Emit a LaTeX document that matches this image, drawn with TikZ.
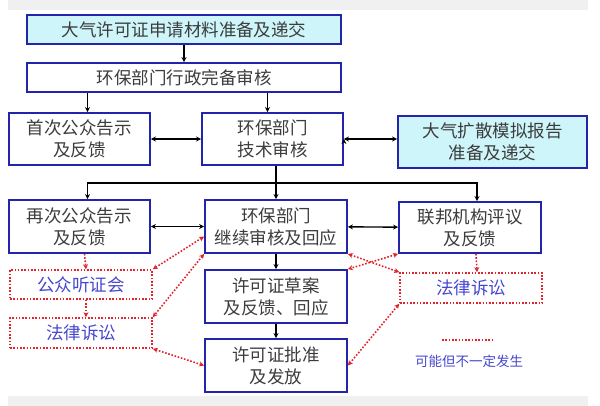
\documentclass[tikz,border=0pt]{standalone}
\usepackage{fontspec}
\setmainfont{Noto Sans CJK SC}
\usetikzlibrary{arrows.meta}
\definecolor{boxblue}{RGB}{36,36,170}
\definecolor{boxcyan}{RGB}{206,245,250}
\definecolor{textgrey}{RGB}{60,60,60}
\definecolor{maybered}{RGB}{228,34,44}
\definecolor{maybeblue}{RGB}{70,70,205}
\tikzset{
  procbox/.style={rectangle,draw=boxblue,line width=1.8pt,fill=white,text=textgrey,align=center,inner sep=1pt},
  inputbox/.style={procbox,fill=boxcyan},
  maybebox/.style={rectangle,draw=maybered,line width=1.6pt,dash pattern=on 1.6pt off 1.7pt,text=maybeblue,align=center,inner sep=1pt},
  flow/.style={line width=1.4pt,draw=black},
  maybeflow/.style={line width=1.6pt,draw=maybered,dash pattern=on 1.6pt off 1.7pt}
}

\begin{document}
\begin{tikzpicture}[x=1pt,y=-1pt,>={Stealth[length=5pt,width=5pt]},font=\fontsize{17.5}{22}\selectfont]
        \useasboundingbox (0,0) rectangle (600,406);
        \fill[black!6] (8,0) rectangle (588,10);
        \fill[black!6] (8,396) rectangle (588,406);
        % The main line of the review runs down the middle column.
        \node[inputbox,minimum width=314,minimum height=29] (apply) at (184,29.5) {大气许可证申请材料准备及递交};
        \node[procbox,minimum width=314,minimum height=29] (admin) at (184,77.5) {环保部门行政完备审核};
        \node[procbox,minimum width=141,minimum height=52] (pub1) at (79.5,139) {首次公众告示\\及反馈};
        \node[procbox,minimum width=141,minimum height=52] (tech) at (272.5,139) {环保部门\\技术审核};
        \node[inputbox,minimum width=189,minimum height=52] (model) at (492.5,142) {大气扩散模拟报告\\准备及递交};
        \node[procbox,minimum width=141,minimum height=53] (pub2) at (79.5,226.5) {再次公众告示\\及反馈};
        \node[procbox,minimum width=142,minimum height=53] (cont) at (276,226.5) {环保部门\\继续审核及回应};
        \node[procbox,minimum width=142,minimum height=51] (fed) at (470,227.5) {联邦机构评议\\及反馈};
        \node[procbox,minimum width=142,minimum height=53] (draft) at (276,296.5) {许可证草案\\及反馈、回应};
        \node[procbox,minimum width=142,minimum height=53] (issue) at (276,365.5) {许可证批准\\及发放};
        % Steps that may or may not happen.
        \node[maybebox,minimum width=142,minimum height=29] (hear) at (81,284.5) {公众听证会};
        \node[maybebox,minimum width=142,minimum height=30] (lawL) at (81,333) {法律诉讼};
        \node[maybebox,minimum width=142,minimum height=30] (lawR) at (471,288) {法律诉讼};
        \coordinate (split) at (276,183);
        \path[flow,->]
          (apply) edge (admin)
          ([xshift=8pt]pub1.north |- admin.south) edge ([xshift=8pt]pub1.north)
          ([xshift=-5pt]tech.north |- admin.south) edge ([xshift=-5pt]tech.north)
          (cont.north |- tech.south) edge (cont.north)
          (cont) edge (draft)
          (draft) edge (issue)
          (pub1) edge[<->] (tech)
          (tech.east) edge[<->] (tech.east -| model.west)
          (pub2) edge[<->] (cont)
          (cont) edge[<->] (fed);
        \draw[flow,->] (split) -| ([xshift=8pt]pub2.north);
        \draw[flow,->] (split) -| ([xshift=7pt]fed.north);
        \path[maybeflow]
          ([xshift=5pt]pub2.south) edge[->] ([xshift=5pt]hear.north)
          ([xshift=5pt]hear.south) edge[->] ([xshift=5pt]lawL.north)
          ([yshift=-10pt]cont.west) edge[<->] (hear.north east)
          (cont.south west) edge[<->] (lawL.north east)
          (lawL.south east) edge[<->] (issue.west)
          (cont.south east) edge[<->] (lawR.north west)
          (fed.south west) edge[<->] (draft.north east)
          ([xshift=6pt]fed.south) edge[->] ([xshift=6pt]lawR.north)
          (lawR.south west) edge[<->] (issue.east);
        % Key
        \coordinate (keyL) at (442,340);
        \coordinate (keyR) at (492,340);
        \draw[maybeflow] (keyL) -- (keyR);
        \node[text=maybeblue,font=\fontsize{13.5}{16}\selectfont] (keytext) at (469,361) {可能但不一定发生};
      \end{tikzpicture}
\end{document}
